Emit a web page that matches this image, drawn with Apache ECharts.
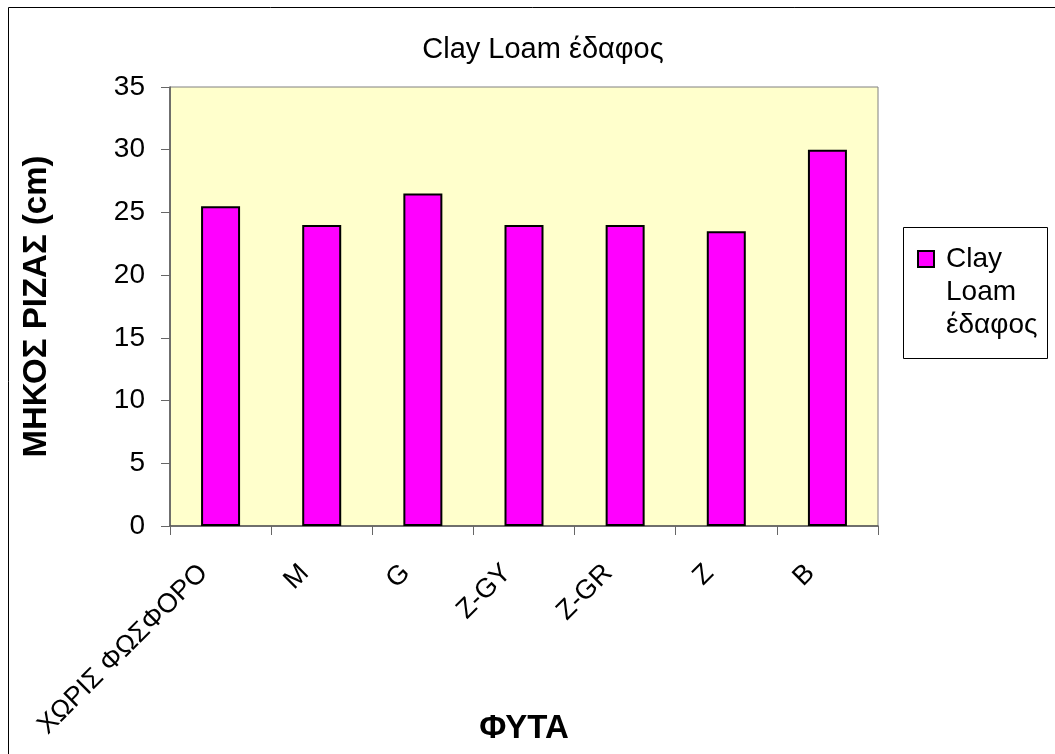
<!DOCTYPE html>
<html>
<head>
<meta charset="utf-8">
<script src="https://cdn.jsdelivr.net/npm/echarts@6/dist/echarts.min.js"></script>
<style>
html,body{margin:0;padding:0;background:#fff;}
#chart{width:1055px;height:754px;}
</style>
</head>
<body>
<div id="chart"></div>
<script>
const categories = ['ΧΩΡΙΣ ΦΩΣΦΟΡΟ', 'M', 'G', 'Z-GY', 'Z-GR', 'Z', 'B'];
const values = [25.5, 24, 26.5, 24, 24, 23.5, 30];
const seriesName = 'Clay Loam έδαφος';
const chartTitle = 'Clay Loam έδαφος';
const yAxisName = 'ΜΗΚΟΣ ΡΙΖΑΣ (cm)';
const xAxisName = 'ΦΥΤΑ';

const FONT = '"Liberation Sans", Arial, sans-serif';
const chart = echarts.init(document.getElementById('chart'), null, {renderer: 'canvas'});
chart.setOption({
  backgroundColor: '#ffffff',
  animation: false,
  textStyle: {fontFamily: FONT, color: '#000'},
  title: {
    text: chartTitle,
    left: 538, top: 30, textAlign: 'center',
    textStyle: {fontFamily: FONT, fontSize: 29, fontWeight: 'normal', color: '#000'}
  },
  graphic: [
    {type: 'rect', shape: {x: 8.5, y: 7.5, width: 2000, height: 2000},
     style: {fill: null, stroke: '#000', lineWidth: 1}, silent: true, z: -1},
    {type: 'rect', shape: {x: 903.5, y: 227.5, width: 144, height: 131},
     style: {fill: '#fff', stroke: '#000', lineWidth: 1}, silent: true, z: 0}
  ],
  legend: {
    left: 917, top: 176.5, padding: 0,
    orient: 'vertical',
    icon: 'rect', itemWidth: 16, itemHeight: 16,
    itemStyle: {borderColor: '#000', borderWidth: 2},
    formatter: function () { return '\n\nClay\nLoam\nέδαφος'; },
    textStyle: {fontFamily: FONT, fontSize: 28, lineHeight: 33, color: '#000', padding: [0, 0, 0, 7]},
    data: [seriesName]
  },
  grid: {left: 170, top: 87, right: 177, bottom: 228, show: true, outerBoundsMode: 'none',
         containLabel: false,
         backgroundColor: '#FFFFCC', borderColor: '#808080', borderWidth: 1},
  xAxis: {
    type: 'category', data: categories,
    name: xAxisName, nameLocation: 'middle', nameGap: 186, nameMoveOverlap: false,
    nameTextStyle: {fontFamily: FONT, fontSize: 33, fontWeight: 'bold', color: '#000'},
    axisLine: {lineStyle: {color: '#555', width: 1.5}},
    axisTick: {show: true, length: 9, alignWithLabel: false, lineStyle: {color: '#666'}},
    axisLabel: {rotate: 45, margin: 26, interval: 0, fontFamily: FONT, fontSize: 27, color: '#000',
                padding: [0, 24, 0, 0]}
  },
  yAxis: {
    type: 'value', min: 0, max: 35, interval: 5,
    name: yAxisName, nameLocation: 'middle', nameGap: 117, nameRotate: 90, nameMoveOverlap: false,
    nameTextStyle: {fontFamily: FONT, fontSize: 33, fontWeight: 'bold', color: '#000'},
    axisLine: {show: true, lineStyle: {color: '#555', width: 1.5}},
    axisTick: {show: true, length: 9, lineStyle: {color: '#666'}},
    splitLine: {show: false},
    axisLabel: {margin: 25, fontFamily: FONT, fontSize: 28, color: '#000'}
  },
  series: [{
    name: seriesName, type: 'bar', data: values, barWidth: 39,
    itemStyle: {color: '#FF00FF', borderColor: '#000', borderWidth: 2}
  }]
});
</script>
</body>
</html>
